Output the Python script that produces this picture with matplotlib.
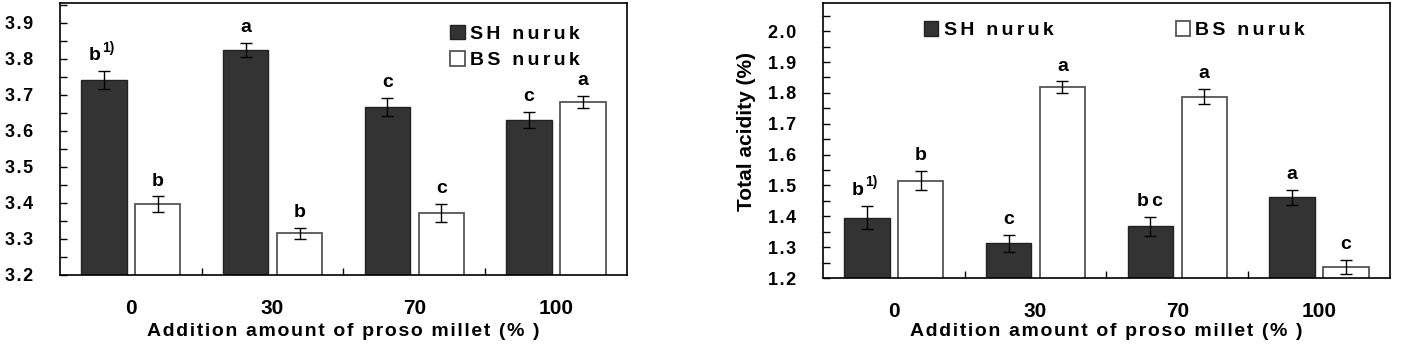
import numpy as np
import matplotlib
matplotlib.use("Agg")
import matplotlib.pyplot as plt
from matplotlib.ticker import MultipleLocator, FixedLocator, FuncFormatter

plt.rcParams['font.family'] = ['Liberation Sans', 'DejaVu Sans']
plt.rcParams['font.weight'] = 'bold'

groups = ["0", "30", "70", "100"]

# left panel
ph_sh = [3.741, 3.824, 3.667, 3.630]
ph_sh_err = [0.024, 0.019, 0.025, 0.022]
ph_bs = [3.397, 3.316, 3.371, 3.681]
ph_bs_err = [0.021, 0.015, 0.025, 0.017]
ph_sh_lab = ["b", "a", "c", "c"]
ph_bs_lab = ["b", "b", "c", "a"]

# right panel (total acidity)
ac_sh = [1.396, 1.312, 1.367, 1.461]
ac_sh_err = [0.038, 0.027, 0.031, 0.024]
ac_bs = [1.516, 1.818, 1.788, 1.236]
ac_bs_err = [0.031, 0.019, 0.025, 0.024]
ac_sh_lab = ["b", "c", "bc", "a"]
ac_bs_lab = ["b", "a", "a", "c"]

dark = "#333333"
w = 0.32
off = 0.19


def spaced(s, sp="\u200a"):
    # wide letter spacing like the original figure
    return sp.join(s)


fig = plt.figure(figsize=(14.01, 3.48), dpi=100)
ax1 = fig.add_axes([0.0428, 0.2098, 0.4047, 0.7816])
ax2 = fig.add_axes([0.5874, 0.2011, 0.4047, 0.789])


def draw(ax, sh, sh_err, bs, bs_err, sh_lab, bs_lab, ylo, yhi):
    x = np.arange(len(groups))
    ax.bar(x - off, sh, w, color=dark, edgecolor="#222222", linewidth=1, label=spaced("SH nuruk", "\u2006"), zorder=2)
    ax.bar(x + off, bs, w, color="white", edgecolor="#555555", linewidth=1.3, label=spaced("BS nuruk", "\u2006"), zorder=2)
    ax.errorbar(x - off, sh, yerr=sh_err, fmt="none", ecolor="black", elinewidth=1, capsize=4, capthick=1, zorder=3)
    ax.errorbar(x + off, bs, yerr=bs_err, fmt="none", ecolor="black", elinewidth=1, capsize=4, capthick=1, zorder=3)
    for i in range(len(groups)):
        dx = -7 if i == 0 else 0
        ax.annotate(spaced(sh_lab[i], "\u2006"), (x[i] - off, sh[i] + sh_err[i]), xytext=(dx, 5),
                    textcoords="offset points", ha="center", va="bottom", fontsize=14, fontweight="bold")
        ax.annotate(bs_lab[i], (x[i] + off, bs[i] + bs_err[i]), xytext=(0, 5),
                    textcoords="offset points", ha="center", va="bottom", fontsize=14, fontweight="bold")
    # footnote mark on first SH letter
    ax.annotate("1)", (x[0] - off, sh[0] + sh_err[0]), xytext=(-1, 12), textcoords="offset points",
                ha="left", va="bottom", fontsize=10, fontweight="bold")
    ax.set_xlim(-0.5, len(groups) - 0.5)
    ax.set_ylim(ylo, yhi)
    ax.set_xticks(x)
    ax.set_xticklabels(groups, fontsize=15, fontweight="bold")
    ax.tick_params(axis="x", which="major", length=0, pad=17)
    ax.xaxis.set_minor_locator(FixedLocator(x[:-1] + 0.5))
    ax.tick_params(axis="x", which="minor", direction="in", length=5, width=1)
    ax.yaxis.set_major_locator(MultipleLocator(0.1))
    ax.yaxis.set_minor_locator(MultipleLocator(0.05))
    ax.yaxis.set_major_formatter(FuncFormatter(lambda v, p: spaced("%.1f" % v, "\u200a")))
    ax.tick_params(axis="y", which="both", direction="in", length=5, width=1, labelsize=13, pad=19.5)
    for lab in ax.get_yticklabels():
        lab.set_fontweight("bold")
    for s in ax.spines.values():
        s.set_linewidth(1.2)
    ax.set_xlabel(spaced("Addition amount of proso millet (% )"), fontsize=14, fontweight="bold", va="top")


draw(ax1, ph_sh, ph_sh_err, ph_bs, ph_bs_err, ph_sh_lab, ph_bs_lab, 3.2, 3.955)
draw(ax2, ac_sh, ac_sh_err, ac_bs, ac_bs_err, ac_sh_lab, ac_bs_lab, 1.2, 2.09)
ax1.xaxis.set_label_coords(0.5, -0.176)
ax2.xaxis.set_label_coords(0.5, -0.164)

ax1.legend(loc="upper left", frameon=False, prop={"weight": "bold", "size": 14},
           handlelength=0.75, handleheight=0.75, handletextpad=0.26, labelspacing=0.45,
           borderpad=0, borderaxespad=0, bbox_to_anchor=(0.688, 0.92))
ax2.legend(loc="upper left", frameon=False, ncol=2, prop={"weight": "bold", "size": 14},
           handlelength=0.75, handleheight=0.75, handletextpad=0.26, columnspacing=6.3,
           borderpad=0, borderaxespad=0, bbox_to_anchor=(0.178, 0.935))
ax2.set_ylabel("Total acidity (%)", fontsize=15, fontweight="bold")
ax2.yaxis.set_label_coords(-0.118, 0.533)

fig.savefig("out.png", dpi=100)
